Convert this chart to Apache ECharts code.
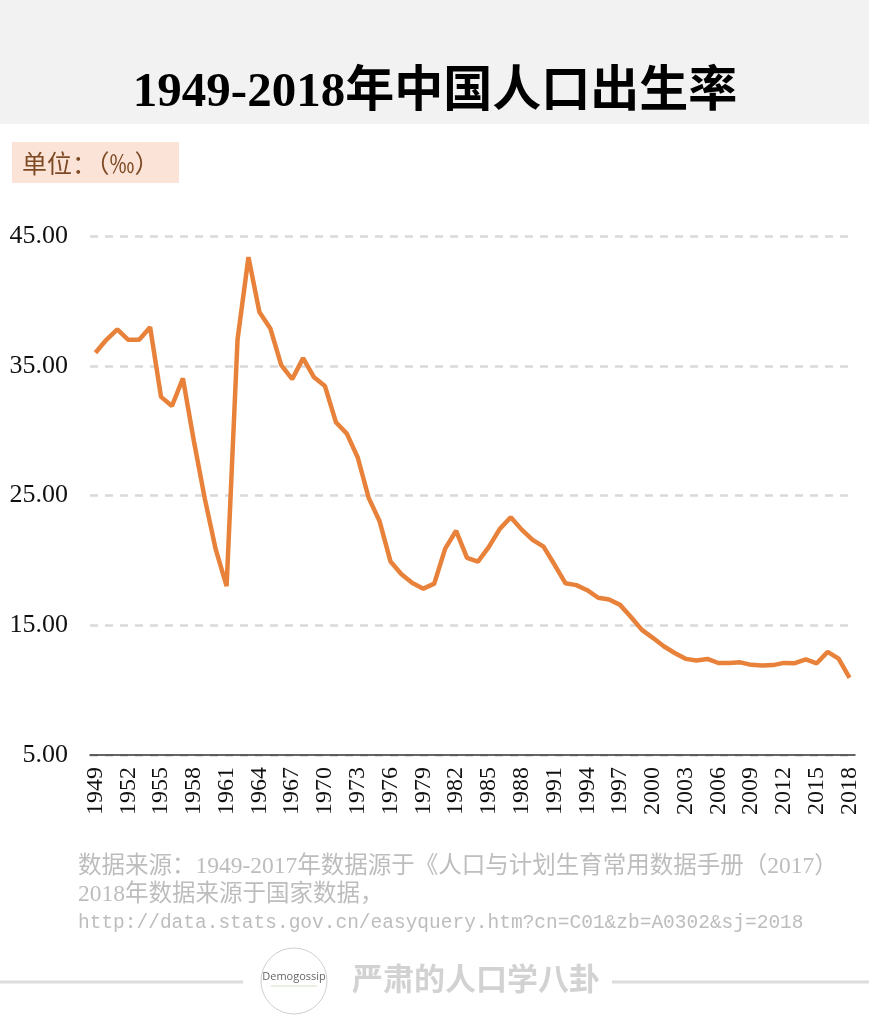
<!DOCTYPE html>
<html>
<head>
<meta charset="utf-8">
<title>1949-2018年中国人口出生率</title>
<script src="https://cdn.jsdelivr.net/npm/echarts@6/dist/echarts.min.js"></script>
<style>
  html, body { margin: 0; padding: 0; background: #fff; }
  #birth-rate-chart { width: 869px; height: 1020px; }
</style>
</head>
<body>
<div id="birth-rate-chart"></div>
<script>
// 年份 1949-2018
const years = []
for (let y = 1949; y <= 2018; y++) years.push(String(y))

// 出生率（‰）
const birthRate = [
  36.00, 37.00, 37.80, 37.00, 37.00, 37.97, 32.60, 31.90, 34.03, 29.22,
  24.78, 20.86, 18.02, 37.01, 43.37, 39.14, 37.88, 35.05, 33.96, 35.59,
  34.11, 33.43, 30.65, 29.77, 27.93, 24.82, 23.01, 19.91, 18.93, 18.25,
  17.82, 18.21, 20.91, 22.28, 20.19, 19.90, 21.04, 22.43, 23.33, 22.37,
  21.58, 21.06, 19.68, 18.24, 18.09, 17.70, 17.12, 16.98, 16.57, 15.64,
  14.64, 14.03, 13.38, 12.86, 12.41, 12.29, 12.40, 12.09, 12.10, 12.14,
  11.95, 11.90, 11.93, 12.10, 12.08, 12.37, 12.07, 12.95, 12.43, 10.94
]

// y轴刻度
const yTicks = [5, 15, 25, 35, 45]

const sourceLines = [
  '数据来源：1949-2017年数据源于《人口与计划生育常用数据手册（2017）',
  '2018年数据来源于国家数据，'
]
const sourceUrl = 'http://data.stats.gov.cn/easyquery.htm?cn=C01&zb=A0302&sj=2018'

const serif = '"Liberation Serif", "Noto Sans CJK SC", serif'

const chart = echarts.init(document.getElementById('birth-rate-chart'))

const option = {
  backgroundColor: '#fff',
  animation: false,
  grid: {
    left: 90,
    right: 14,
    top: 236,
    bottom: 265
  },
  xAxis: {
    type: 'category',
    boundaryGap: true,
    data: years,
    axisLine: {
      lineStyle: { color: '#333', width: 1.5 }
    },
    axisTick: { show: false },
    //轴线上的字
    axisLabel: {
      interval: 2,
      rotate: 90,
      margin: 12,
      color: '#111',
      fontSize: 24,
      fontFamily: serif
    },
    splitLine: { show: false }
  },
  yAxis: {
    type: 'value',
    min: yTicks[0],
    max: yTicks[yTicks.length - 1],
    interval: 10,
    axisLine: { show: false },
    axisTick: { show: false },
    axisLabel: {
      margin: 22,
      color: '#111',
      fontSize: 26,
      fontFamily: serif,
      formatter: (v) => v.toFixed(2)
    },
    //网格线
    splitLine: {
      lineStyle: {
        type: [8, 7],
        color: '#d9d9d9',
        width: 2.5
      }
    }
  },
  series: [
    {
      name: '出生率',
      type: 'line',
      data: birthRate,
      showSymbol: false,
      smooth: false,
      lineStyle: { color: '#e8823a', width: 4.5 },
      z: 5
    }
  ],
  graphic: [
    // 顶部灰色标题栏
    {
      type: 'rect',
      left: 0, top: 0, z: -1,
      shape: { width: 869, height: 124 },
      style: { fill: '#f2f2f2' }
    },
    {
      type: 'text',
      x: 435, y: 93,
      style: {
        text: '1949-2018年中国人口出生率',
        fill: '#000',
        fontSize: 49,
        fontWeight: 'bold',
        fontFamily: serif,
        align: 'center',
        verticalAlign: 'middle'
      }
    },
    // 单位
    {
      type: 'rect',
      shape: { x: 12, y: 142, width: 167, height: 41 },
      style: { fill: '#fbe4d7' }
    },
    {
      type: 'text',
      x: 22, y: 163,
      style: {
        text: '单位：（‰）',
        fill: '#7d4a24',
        fontSize: 25,
        fontFamily: '"Noto Sans CJK SC", sans-serif',
        verticalAlign: 'middle'
      }
    },
    // 数据来源
    {
      type: 'text',
      x: 78, y: 867,
      style: {
        text: sourceLines[0],
        fill: '#bdbdbd',
        fontSize: 23.5,
        fontFamily: serif,
        verticalAlign: 'middle'
      }
    },
    {
      type: 'text',
      x: 78, y: 895,
      style: {
        text: sourceLines[1],
        fill: '#bdbdbd',
        fontSize: 23.5,
        fontFamily: serif,
        verticalAlign: 'middle'
      }
    },
    {
      type: 'text',
      x: 78, y: 923,
      style: {
        text: sourceUrl,
        fill: '#bdbdbd',
        fontSize: 19.5,
        fontFamily: '"Liberation Mono", monospace',
        verticalAlign: 'middle'
      }
    },
    // 底部标志
    {
      type: 'line',
      shape: { x1: 0, y1: 982, x2: 243, y2: 982 },
      style: { stroke: '#dcdcdc', lineWidth: 3 }
    },
    {
      type: 'line',
      shape: { x1: 612, y1: 982, x2: 869, y2: 982 },
      style: { stroke: '#dcdcdc', lineWidth: 3 }
    },
    {
      type: 'circle',
      shape: { cx: 294, cy: 981, r: 33 },
      style: { fill: '#fff', stroke: '#cfcfcf', lineWidth: 1 }
    },
    {
      type: 'text',
      x: 294, y: 977,
      style: {
        text: 'Demogossip',
        fill: '#666',
        fontSize: 11,
        fontFamily: '"Open Sans", sans-serif',
        align: 'center',
        verticalAlign: 'middle'
      }
    },
    {
      type: 'line',
      shape: { x1: 271, y1: 986, x2: 317, y2: 986 },
      style: { stroke: '#b5c99a', lineWidth: 0.6 }
    },
    {
      type: 'text',
      x: 476, y: 978,
      style: {
        text: '严肃的人口学八卦',
        fill: '#d2d2d2',
        fontSize: 31,
        fontWeight: 'bold',
        fontFamily: '"Noto Sans CJK SC", sans-serif',
        align: 'center',
        verticalAlign: 'middle'
      }
    }
  ]
}

chart.setOption(option)
</script>
</body>
</html>
